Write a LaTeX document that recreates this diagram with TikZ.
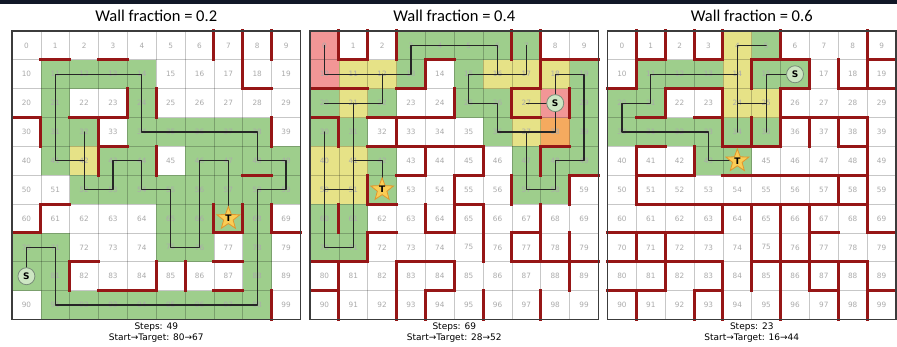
\documentclass[tikz,border=0pt]{standalone}
\usepackage{fontspec}
\setmainfont{DejaVu Sans}
\newfontfamily\titlefont{Carlito}
\usetikzlibrary{shapes.geometric}
\definecolor{cgreen}{RGB}{158,206,140}
\definecolor{cyellow}{RGB}{230,226,135}
\definecolor{corange}{RGB}{245,170,95}
\definecolor{cred}{RGB}{242,150,150}
\definecolor{wallred}{RGB}{150,22,22}
\definecolor{numgray}{RGB}{170,170,170}
\definecolor{framegray}{RGB}{60,60,60}
\definecolor{topbar}{RGB}{17,24,39}
\definecolor{startfill}{RGB}{205,230,195}
\definecolor{startdraw}{RGB}{120,140,120}
\definecolor{starfill}{RGB}{250,205,85}
\definecolor{stardraw}{RGB}{225,150,45}
\tikzset{
  cellnum/.style={text=numgray,font=\fontsize{7.3}{8}\selectfont,inner sep=0pt},
  wall/.style={draw=wallred,line width=3pt,line cap=rect},
  traj/.style={draw=black!85,line width=1.2pt,line join=round,line cap=round},
  gridline/.style={draw=black,draw opacity=0.22,line width=0.7pt},
  frame/.style={draw=framegray,line width=1.5pt},
  startmark/.style={circle,draw=startdraw,fill=startfill,line width=0.8pt,minimum size=17pt,inner sep=0pt,font=\bfseries\fontsize{9}{9}\selectfont},
  targetmark/.style={star,star points=5,star point ratio=2.4,fill=starfill,draw=stardraw,line width=0.8pt,minimum size=24pt,inner sep=0pt},
  targetlabel/.style={font=\bfseries\fontsize{9}{9}\selectfont,inner sep=0pt},
  paneltitle/.style={font=\titlefont\fontsize{16.5}{18}\selectfont},
  caption/.style={font=\fontsize{9}{10}\selectfont,inner sep=0pt},
}
\newcommand\mzfill[2]{\foreach \k in {#2}{\pgfmathtruncatemacro\mzc{mod(\k,10)}\pgfmathtruncatemacro\mzr{div(\k,10)}\fill[#1] (\mzc,\mzr) rectangle ++(1,1);}}
\newcommand\mzbase[1]{%
  \foreach \i in {1,...,9}{\draw[gridline] (\i,0) -- (\i,10); \draw[gridline] (0,\i) -- (10,\i);}
  \foreach \k in {0,...,99}{\pgfmathtruncatemacro\mzc{mod(\k,10)}\pgfmathtruncatemacro\mzr{div(\k,10)}
    \coordinate (#1-\k) at (\mzc+0.5,\mzr+0.5);
    \node[cellnum] (#1-n\k) at (#1-\k) {\k};}}
\newcommand\mzvwalls[1]{\foreach \wc/\wr in {#1}{\draw[wall] (\wc,\wr) -- ++(0,1);}}
\newcommand\mzhwalls[1]{\foreach \wc/\wr in {#1}{\draw[wall] (\wc,\wr) -- ++(1,0);}}
\begin{document}
\begin{tikzpicture}[x=1pt,y=-1pt]
\fill[white] (0,0) rectangle (897,347);
\useasboundingbox (0,0) rectangle (897,347);
\fill[topbar] (0,0) rectangle (897,4.5);
% titles and captions
\node[paneltitle] (A-title) at (156.25,16) {Wall fraction = 0.2};
\node[paneltitle] (B-title) at (454.25,16) {Wall fraction = 0.4};
\node[paneltitle] (C-title) at (751.75,16) {Wall fraction = 0.6};
\node[caption] (A-steps) at (156.25,327) {Steps: 49};
\node[caption] (A-st) at (156.25,338.5) {Start→Target: 80→67};
\node[caption] (B-steps) at (454.25,327) {Steps: 69};
\node[caption] (B-st) at (454.25,338.5) {Start→Target: 28→52};
\node[caption] (C-steps) at (751.75,327) {Steps: 23};
\node[caption] (C-st) at (751.75,338.5) {Start→Target: 16→44};
% ---------------- grid 1 ----------------
\begin{scope}[shift={(12,31)},x=28.85pt,y=-28.85pt]
\mzfill{cgreen}{11,12,13,14,21,24,31,32,34,35,36,37,38,41,43,44,46,47,48,49,52,53,54,55,56,57,58,59,65,66,67,68,70,71,75,76,78,80,81,88,91,92,93,94,95,96,97,98}
\mzfill{cyellow}{42}
\mzbase{A}
\mzvwalls{7/0,8/0,8/1,9/0,4/2,5/2,1/3,3/3,9/3,3/4,5/4,1/6,7/6,8/6,9/6,2/8,5/8,6/8,9/9}
\mzhwalls{1/1,3/1,8/2,0/3,2/3,3/3,3/4,8/5,1/6,0/7,7/7,9/7,2/8,7/8,3/9,4/9,7/9}
\draw[traj] (A-80) \foreach \k in {70,71,81,91,92,93,94,95,96,97,98,88,78,68,58,59,49,48,38,37,36,35,34,24,14,13,12,11,21,31,41,42,32,42,52,53,43,44,54,55,65,75,76,66,56,46,47,57,67}{ -- (A-\k)};
\draw[frame] (0,0) rectangle (10,10);
\node[startmark] (A-S) at (A-80) {S};
\node[targetmark] (A-T) at (A-67) {};
\node[targetlabel] (A-Tl) at (A-67) {T};
\end{scope}
% ---------------- grid 2 ----------------
\begin{scope}[shift={(310,31)},x=28.85pt,y=-28.85pt]
\mzfill{cgreen}{3,4,5,6,7,13,15,19,20,22,25,26,29,30,31,36,39,42,47,48,49,52,57,58,60,61,70,71}
\mzfill{cyellow}{11,12,16,17,18,21,27,37,40,41,50,51}
\mzfill{corange}{38}
\mzfill{cred}{0,10,28}
\mzbase{B}
\mzvwalls{1/0,2/0,3/0,7/0,8/0,4/1,8/1,5/2,7/2,9/2,1/3,3/3,4/4,6/4,8/4,2/5,5/5,7/5,9/5,1/6,4/6,5/6,6/6,8/6,2/7,6/7,7/7,8/7,9/7,1/8,3/8,5/8,9/8,1/9,3/9,4/9,6/9,8/9}
\mzhwalls{1/1,4/1,8/1,9/1,0/2,1/2,3/2,7/2,0/3,2/3,3/3,4/3,7/3,2/4,3/4,4/4,5/4,8/4,3/5,5/5,9/5,2/6,5/6,2/7,4/7,7/7,0/8,1/8,3/8,4/8,7/8,8/8,9/8,0/9,4/9}
\draw[traj] (B-0) -- (B-10) -- (B-11) -- (B-12) -- (B-13) -- (B-3) -- (B-4) -- (B-5) -- (B-6) -- (B-16) -- (B-17) -- (B-7);
\draw[traj] (B-16) -- (B-15) -- (B-25) -- (B-26) -- (B-36) -- (B-37) -- (B-38) -- (B-28) -- (B-27);
\draw[traj] (B-28) -- (B-18) -- (B-19) -- (B-29) -- (B-39) -- (B-49) -- (B-48) -- (B-58) -- (B-57) -- (B-47) -- (B-37);
\draw[traj] (B-12) -- (B-22) -- (B-21) -- (B-20);
\draw[traj] (B-21) -- (B-31) -- (B-41) -- (B-51) -- (B-61) -- (B-71) -- (B-70) -- (B-60) -- (B-50) -- (B-40) -- (B-30);
\draw[traj] (B-50) -- (B-51);
\draw[traj] (B-41) -- (B-42) -- (B-52);
\draw[frame] (0,0) rectangle (10,10);
\node[startmark] (B-S) at (B-28) {S};
\node[targetmark] (B-T) at (B-52) {};
\node[targetlabel] (B-Tl) at (B-52) {T};
\end{scope}
% ---------------- grid 3 ----------------
\begin{scope}[shift={(607.5,31)},x=28.85pt,y=-28.85pt]
\mzfill{cgreen}{5,11,12,13,15,16,20,21,30,31,32,33,34,35,43,44}
\mzfill{cyellow}{4,14,24,25}
\mzbase{C}
\mzvwalls{1/0,2/0,3/0,4/0,6/0,9/0,1/1,5/1,7/1,8/1,9/1,2/2,4/2,6/2,4/3,5/3,6/3,7/3,8/3,9/3,1/4,3/4,9/4,1/5,8/5,9/5,4/6,5/6,6/6,7/6,9/6,1/7,2/7,5/7,6/7,7/7,2/8,4/8,5/8,6/8,7/8,8/8,9/8,1/9,3/9,4/9,6/9,8/9,9/9}
\mzhwalls{1/1,3/1,5/1,6/1,9/1,0/2,2/2,3/2,6/2,8/2,9/2,1/3,3/3,6/3,7/3,8/3,1/4,4/4,5/4,8/4,1/5,2/5,4/5,5/5,6/5,7/5,8/5,1/6,2/6,3/6,4/6,5/6,6/6,7/6,8/6,0/7,1/7,2/7,3/7,7/7,9/7,0/8,1/8,2/8,3/8,5/8,6/8,7/8,8/8,0/9,1/9,3/9,7/9,9/9}
\draw[traj] (C-16) \foreach \k in {15,25,35,25,24,34,24,14,4,5,4,14,13,12,11,21,20,30,31,32,33,43,44}{ -- (C-\k)};
\draw[frame] (0,0) rectangle (10,10);
\node[startmark] (C-S) at (C-16) {S};
\node[targetmark] (C-T) at (C-44) {};
\node[targetlabel] (C-Tl) at (C-44) {T};
\end{scope}
\end{tikzpicture}
\end{document}
